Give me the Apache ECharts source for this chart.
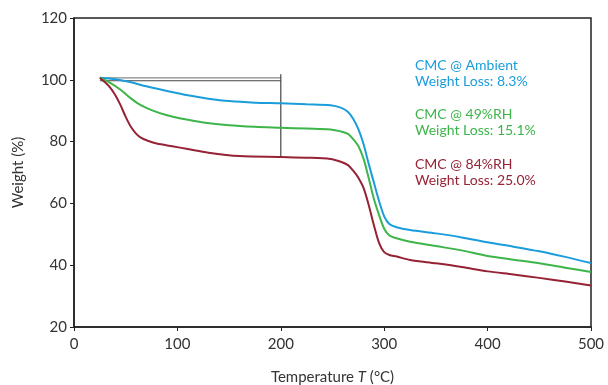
<!DOCTYPE html>
<html>
<head>
<meta charset="utf-8">
<script src="https://cdn.jsdelivr.net/npm/echarts@6/dist/echarts.min.js"></script>
<style>
  html, body { margin: 0; padding: 0; background: #fff; }
  #chart { width: 608px; height: 385px; }
</style>
</head>
<body>
<div id="chart"></div>
<script>
// TGA curves
const ambientT = [25, 40, 55, 70, 90, 110, 130, 150, 175, 200, 225, 248, 258, 265, 270, 275, 280, 285, 290, 295, 300, 305, 312, 325, 350, 375, 400, 425, 450, 475, 500];
const ambientW = [100.7, 100.2, 99.2, 97.9, 96.4, 95.0, 93.9, 93.1, 92.6, 92.4, 92.1, 91.8, 91.0, 89.6, 87.4, 84.0, 79.2, 72.8, 66.8, 60.8, 55.8, 53.3, 52.3, 51.4, 50.3, 49.0, 47.4, 46.0, 44.5, 42.7, 40.7];

const rh49T = [25, 35, 45, 55, 65, 75, 90, 106, 125, 150, 175, 200, 225, 248, 258, 265, 270, 275, 280, 285, 290, 295, 300, 305, 312, 325, 350, 375, 400, 425, 450, 475, 500];
const rh49W = [100.7, 99.0, 96.8, 94.0, 91.7, 90.2, 88.5, 87.3, 86.2, 85.3, 84.8, 84.5, 84.2, 83.9, 83.3, 82.5, 80.8, 78.6, 74.5, 68.2, 61.5, 56.3, 51.8, 49.6, 48.7, 47.6, 46.2, 44.8, 43.0, 41.8, 40.6, 39.2, 37.8];

const rh84T = [25, 30, 35, 40, 45, 50, 55, 60, 65, 72, 80, 95, 110, 130, 160, 200, 225, 248, 258, 265, 270, 275, 280, 285, 290, 295, 300, 305, 312, 325, 350, 375, 400, 425, 450, 475, 500];
const rh84W = [100.6, 99.2, 97.5, 95.0, 91.8, 88.0, 84.8, 82.6, 81.2, 80.2, 79.4, 78.5, 77.6, 76.4, 75.3, 75.0, 74.8, 74.4, 73.5, 72.4, 70.6, 68.3, 65.0, 59.5, 53.0, 47.2, 44.2, 43.3, 42.8, 41.7, 40.6, 39.4, 38.0, 37.0, 35.9, 34.7, 33.4];

// bracket marking the weight loss at 200 °C
const bracketTop = [[25, 100.6], [200, 100.6]];
const bracketMid = [[25, 99.7], [200, 99.7]];
const bracketVert = [[200, 101.8], [200, 75.0]];

const xTicks = [0, 100, 200, 300, 400, 500];
const yTicks = [20, 40, 60, 80, 100, 120];

const colors = { ambient: '#1b9ddb', rh49: '#3db54a', rh84: '#962235' };
const labels = [
  { name: 'CMC @ Ambient', loss: 'Weight Loss: 8.3%', color: colors.ambient, top: 57 },
  { name: 'CMC @ 49%RH', loss: 'Weight Loss: 15.1%', color: colors.rh49, top: 106 },
  { name: 'CMC @ 84%RH', loss: 'Weight Loss: 25.0%', color: colors.rh84, top: 156 }
];

const zip = (xs, ys) => xs.map((x, i) => [x, ys[i]]);
const font = 'Lato, "DejaVu Sans", sans-serif';

const chart = echarts.init(document.getElementById('chart'), null, { renderer: 'canvas' });

const curve = (data, color) => ({
  type: 'line',
  data: data,
  smooth: 0.3,
  symbol: 'none',
  lineStyle: { color: color, width: 2 },
  z: 3
});

const bracket = (data, color) => ({
  type: 'line',
  data: data,
  symbol: 'none',
  lineStyle: { color: color, width: 1.2 },
  z: 2
});

chart.setOption({
  animation: false,
  grid: {
    left: 74, right: 17, top: 18, bottom: 58,
    outerBoundsMode: 'none',
    containLabel: false,
    show: true, borderColor: '#222', borderWidth: 1.5
  },
  xAxis: {
    type: 'value',
    min: 0, max: 500, interval: 100,
    name: '{n|Temperature }{i|T}{n| (°C)}',
    nameLocation: 'middle',
    nameGap: 43,
    nameTextStyle: {
      rich: {
        n: { fontSize: 15, color: '#333', fontFamily: font },
        i: { fontSize: 15, color: '#333', fontFamily: font, fontStyle: 'italic' }
      }
    },
    axisLine: { lineStyle: { color: '#222', width: 1.5 } },
    axisTick: { length: 4, lineStyle: { color: '#222' } },
    axisLabel: { fontSize: 15, color: '#333', fontFamily: font, margin: 10,
      formatter: v => xTicks.includes(v) ? String(v) : '' },
    splitLine: { show: false }
  },
  yAxis: {
    type: 'value',
    min: 20, max: 120, interval: 20,
    name: 'Weight (%)',
    nameLocation: 'middle',
    nameGap: 48,
    nameTextStyle: { fontSize: 15, color: '#333', fontFamily: font },
    axisLine: { lineStyle: { color: '#222', width: 1.5 } },
    axisTick: { length: 4, lineStyle: { color: '#222' } },
    axisLabel: { fontSize: 15, color: '#333', fontFamily: font, margin: 7,
      formatter: v => yTicks.includes(v) ? String(v) : '' },
    splitLine: { show: false }
  },
  series: [
    bracket(bracketTop, '#888'),
    bracket(bracketMid, '#444'),
    bracket(bracketVert, '#444'),
    curve(zip(ambientT, ambientW), colors.ambient),
    curve(zip(rh49T, rh49W), colors.rh49),
    curve(zip(rh84T, rh84W), colors.rh84)
  ],
  graphic: labels.map(l => ({
    type: 'text',
    left: 415,
    top: l.top,
    style: {
      text: l.name + '\n' + l.loss,
      fill: l.color,
      font: '14px ' + font,
      lineHeight: 16
    }
  }))
});
</script>
</body>
</html>
